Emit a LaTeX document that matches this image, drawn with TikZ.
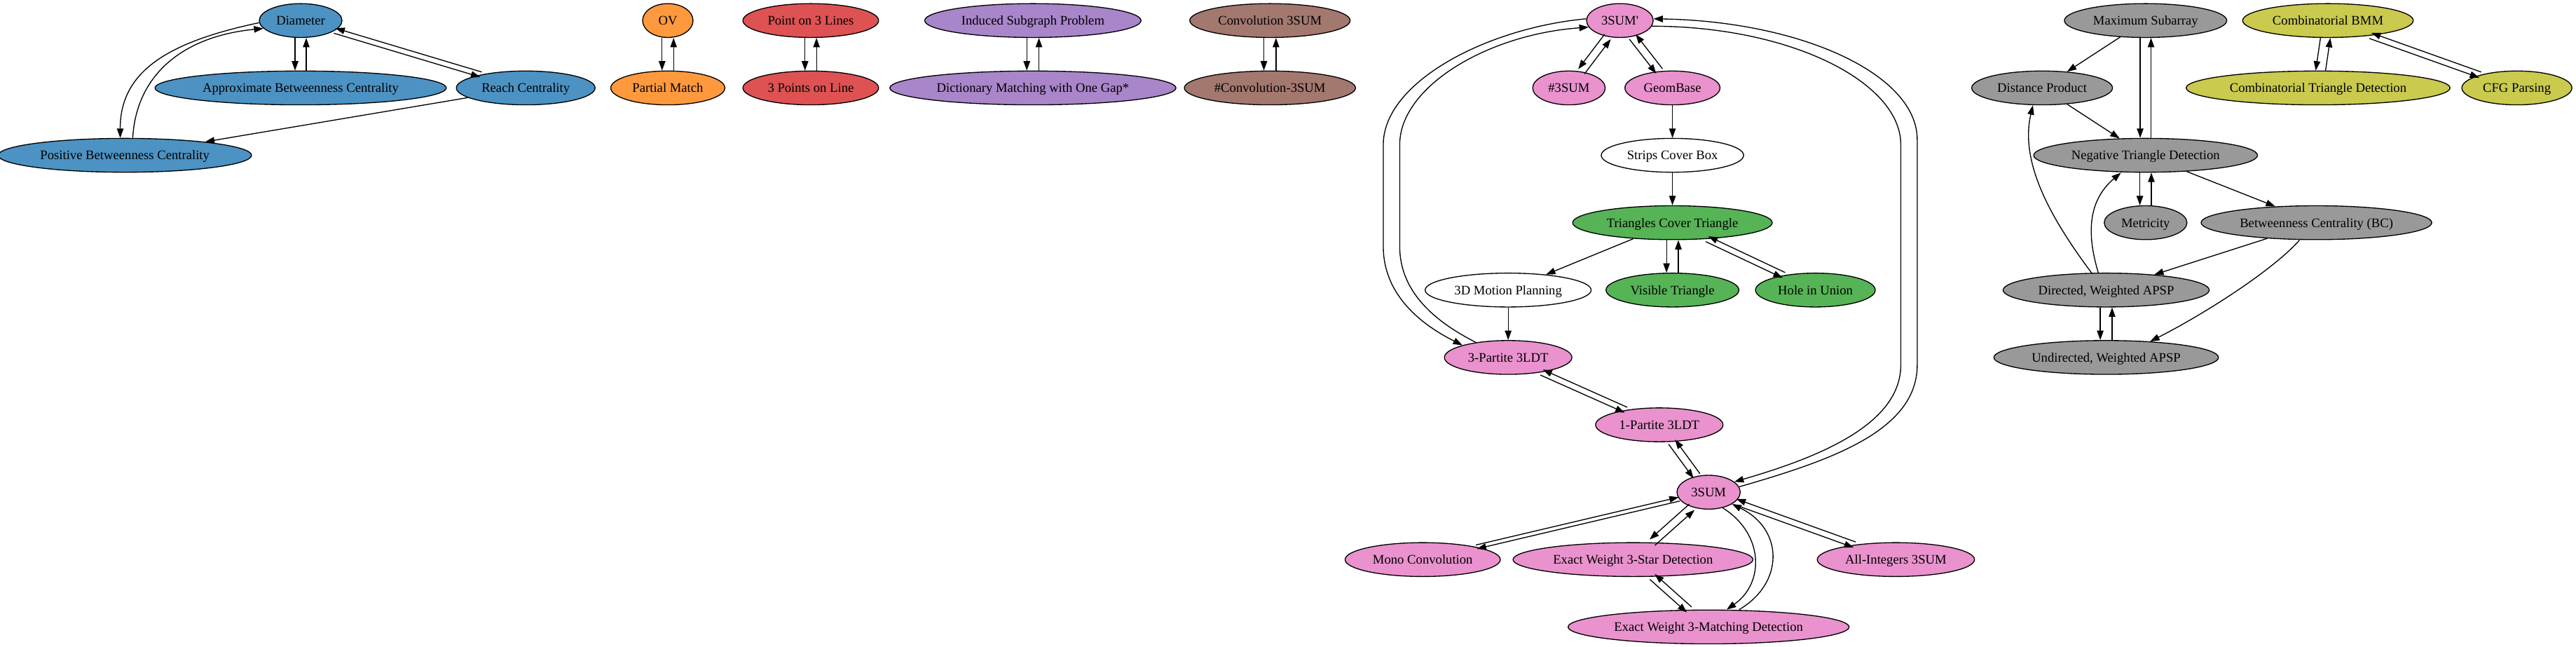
\documentclass[tikz,border=0pt]{standalone}
\usepackage{fontspec}
\setmainfont{Liberation Serif}
\usetikzlibrary{shapes.geometric,arrows.meta}

\definecolor{cblue}{RGB}{76,146,195}
\definecolor{corange}{RGB}{255,153,62}
\definecolor{cgreen}{RGB}{86,179,86}
\definecolor{cred}{RGB}{222,82,83}
\definecolor{cpurple}{RGB}{169,133,202}
\definecolor{cbrown}{RGB}{163,120,111}
\definecolor{cpink}{RGB}{233,146,206}
\definecolor{cgray}{RGB}{153,153,153}
\definecolor{colive}{RGB}{201,202,78}
\newcommand\probfont{\fontsize{7.96pt}{9pt}\selectfont}

\begin{document}
\begin{tikzpicture}[x=1pt,y=1pt,
	prob/.style={ellipse,draw,line width=0.57pt,minimum width=30.7pt,minimum height=20.6pt,
		inner xsep=3pt,inner ysep=0pt,text height=5.4pt,text depth=0pt,font=\probfont},
	dep/.style={-{Triangle[length=5.7pt,width=4pt]},line width=0.57pt},
	side/.style={transform canvas={shift={#1}}}]
	\useasboundingbox (0,0) rectangle (1568,-393.7);

	\node[prob,fill=cblue] (diam) at (183,-12.5) {Diameter};
	\node[prob,fill=cblue] (abc) at (183,-53.5) {Approximate Betweenness Centrality};
	\node[prob,fill=cblue] (reach) at (320,-53.5) {Reach Centrality};
	\node[prob,fill=cblue] (pbc) at (76,-94.5) {Positive Betweenness Centrality};

	\node[prob,fill=corange] (ov) at (406.5,-12.5) {OV};
	\node[prob,fill=corange] (pm) at (406.5,-53.5) {Partial Match};
	\node[prob,fill=cred] (p3l) at (493.5,-12.5) {Point on 3 Lines};
	\node[prob,fill=cred] (tpl) at (493.5,-53.5) {3 Points on Line};
	\node[prob,fill=cpurple] (isp) at (628.7,-12.5) {Induced Subgraph Problem};
	\node[prob,fill=cpurple] (dmg) at (628.7,-53.5) {Dictionary Matching with One Gap*};
	\node[prob,fill=cbrown] (conv) at (773,-12.5) {Convolution 3SUM};
	\node[prob,fill=cbrown] (sconv) at (773,-53.5) {\#Convolution-3SUM};

	\node[prob,fill=cpink] (tsp) at (986,-12.5) {3SUM\textquotesingle};
	\node[prob,fill=cpink] (s3sum) at (955,-53.5) {\#3SUM};
	\node[prob,fill=cpink] (geom) at (1018,-53.5) {GeomBase};
	\node[prob,fill=white] (scb) at (1018,-94.5) {Strips Cover Box};
	\node[prob,fill=cgreen] (tct) at (1018,-135.5) {Triangles Cover Triangle};
	\node[prob,fill=white] (tdm) at (918,-176.5) {3D Motion Planning};
	\node[prob,fill=cgreen] (vis) at (1018,-176.5) {Visible Triangle};
	\node[prob,fill=cgreen] (hole) at (1105,-176.5) {Hole in Union};
	\node[prob,fill=cpink] (tpart) at (918,-217.5) {3-Partite 3LDT};
	\node[prob,fill=cpink] (opart) at (1010,-258.5) {1-Partite 3LDT};
	\node[prob,fill=cpink] (tsum) at (1040,-299.5) {3SUM};
	\node[prob,fill=cpink] (mono) at (866,-340.5) {Mono Convolution};
	\node[prob,fill=cpink] (ewstar) at (994,-340.5) {Exact Weight 3-Star Detection};
	\node[prob,fill=cpink] (allint) at (1154,-340.5) {All-Integers 3SUM};
	\node[prob,fill=cpink] (ewmatch) at (1040,-381.5) {Exact Weight 3-Matching Detection};

	\node[prob,fill=cgray] (maxsub) at (1306,-12.5) {Maximum Subarray};
	\node[prob,fill=cgray] (dist) at (1243,-53.5) {Distance Product};
	\node[prob,fill=cgray] (negtri) at (1306,-94.5) {Negative Triangle Detection};
	\node[prob,fill=cgray] (metric) at (1306,-135.5) {Metricity};
	\node[prob,fill=cgray] (bc) at (1410,-135.5) {Betweenness Centrality (BC)};
	\node[prob,fill=cgray] (dapsp) at (1282,-176.5) {Directed, Weighted APSP};
	\node[prob,fill=cgray] (uapsp) at (1282,-217.5) {Undirected, Weighted APSP};

	\node[prob,fill=colive] (bmm) at (1417,-12.5) {Combinatorial BMM};
	\node[prob,fill=colive] (ctd) at (1411,-53.5) {Combinatorial Triangle Detection};
	\node[prob,fill=colive] (cfg) at (1532,-53.5) {CFG Parsing};

	\draw[dep,side={(-3.4,0)}] (diam) -- (abc);
	\draw[dep,side={(3.4,0)}] (abc) -- (diam);
	\draw[dep,side={(-0.46,-1.53)}] (diam) -- (reach);
	\draw[dep,side={(0.46,1.53)}] (reach) -- (diam);
	\draw[dep] (diam.183) .. controls (105,-25) and (73,-42) .. ([xshift=-2.8pt]pbc.north);
	\draw[dep] ([xshift=4.8pt]pbc.north) .. controls (83,-45) and (112,-22) .. (diam.192);
	\draw[dep] (reach) -- (pbc);

	\draw[dep,side={(-3.5,0)}] (ov) -- (pm);
	\draw[dep,side={(3.5,0)}] (pm) -- (ov);
	\draw[dep,side={(-3.5,0)}] (p3l) -- (tpl);
	\draw[dep,side={(3.5,0)}] (tpl) -- (p3l);
	\draw[dep,side={(-3.7,0)}] (isp) -- (dmg);
	\draw[dep,side={(3.7,0)}] (dmg) -- (isp);
	\draw[dep,side={(-3.7,0)}] (conv) -- (sconv);
	\draw[dep,side={(3.7,0)}] (sconv) -- (conv);

	\draw[dep,side={(-1.9,1.45)}] (tsp) -- (s3sum);
	\draw[dep,side={(1.9,-1.45)}] (s3sum) -- (tsp);
	\draw[dep,side={(-1.9,-1.48)}] (tsp) -- (geom);
	\draw[dep,side={(1.9,1.48)}] (geom) -- (tsp);
	\draw[dep] (geom) -- (scb);
	\draw[dep] (scb) -- (tct);
	\draw[dep] (tct) -- (tdm);
	\draw[dep,side={(-3.6,0)}] (tct) -- (vis);
	\draw[dep,side={(3.6,0)}] (vis) -- (tct);
	\draw[dep,side={(-0.77,-1.63)}] (tct) -- (hole);
	\draw[dep,side={(0.77,1.63)}] (hole) -- (tct);
	\draw[dep] (tdm) -- (tpart);
	\draw[dep] (tsp.177) .. controls (905,-17) and (842,-50) .. (842,-88) -- (842,-150)
		.. controls (842,-180) and (866,-198) .. (tpart.165);
	\draw[dep] (tpart.155) .. controls (874,-196) and (852,-178) .. (852,-150) -- (852,-88)
		.. controls (852,-53) and (905,-21) .. (tsp.192);
	\draw[dep,side={(-0.73,-1.65)}] (tpart) -- (opart);
	\draw[dep,side={(0.73,1.65)}] (opart) -- (tpart);
	\draw[dep,side={(-1.94,-1.42)}] (opart) -- (tsum);
	\draw[dep,side={(1.94,1.42)}] (tsum) -- (opart);
	\draw[dep] (tsum.10) .. controls (1115,-280) and (1167,-262) .. (1167,-222) -- (1167,-85)
		.. controls (1167,-45) and (1096,-13) .. (tsp.3);
	\draw[dep] (tsp.-10) .. controls (1090,-16) and (1157,-50) .. (1157,-88) -- (1157,-222)
		.. controls (1157,-258) and (1108,-278) .. (tsum.22);
	\draw[dep,side={(0.28,-1.17)}] (tsum) -- (mono);
	\draw[dep,side={(-0.28,1.17)}] (mono) -- (tsum);
	\draw[dep,side={(-1.6,1.79)}] (tsum) -- (ewstar);
	\draw[dep,side={(1.6,-1.79)}] (ewstar) -- (tsum);
	\draw[dep,side={(-0.61,-1.69)}] (tsum) -- (allint);
	\draw[dep,side={(0.61,1.69)}] (allint) -- (tsum);
	\draw[dep] (tsum.312) .. controls (1074,-325) and (1074,-355) .. ([xshift=11pt]ewmatch.north);
	\draw[dep] ([xshift=18.6pt]ewmatch.north) .. controls (1086,-355) and (1086,-322) .. (tsum.333);
	\draw[dep,side={(-1.46,-1.64)}] (ewstar) -- (ewmatch);
	\draw[dep,side={(1.46,1.64)}] (ewmatch) -- (ewstar);

	\draw[dep] (maxsub) -- (dist);
	\draw[dep,side={(-3.3,0)}] (maxsub) -- (negtri);
	\draw[dep,side={(3.3,0)}] (negtri) -- (maxsub);
	\draw[dep] (dist) -- (negtri);
	\draw[dep,side={(-3.5,0)}] (negtri) -- (metric);
	\draw[dep,side={(3.5,0)}] (metric) -- (negtri);
	\draw[dep] (negtri) -- (bc);
	\draw[dep] (bc) -- (dapsp);
	\draw[dep] ([xshift=-10.3pt]bc.south) .. controls (1383,-165) and (1340,-192) .. (uapsp.20);
	\draw[dep] ([xshift=-9pt]dapsp.north) .. controls (1250,-135) and (1229,-100) .. ([xshift=-5.6pt]dist.south);
	\draw[dep] ([xshift=-4.8pt]dapsp.north) .. controls (1270,-142) and (1271,-122) .. ([xshift=-15pt]negtri.south);
	\draw[dep,side={(-3.6,0)}] (dapsp) -- (uapsp);
	\draw[dep,side={(3.6,0)}] (uapsp) -- (dapsp);

	\draw[dep,side={(-3,0)}] (bmm) -- (ctd);
	\draw[dep,side={(3,0)}] (ctd) -- (bmm);
	\draw[dep,side={(-0.6,-1.7)}] (bmm) -- (cfg);
	\draw[dep,side={(0.6,1.7)}] (cfg) -- (bmm);
\end{tikzpicture}
\end{document}
